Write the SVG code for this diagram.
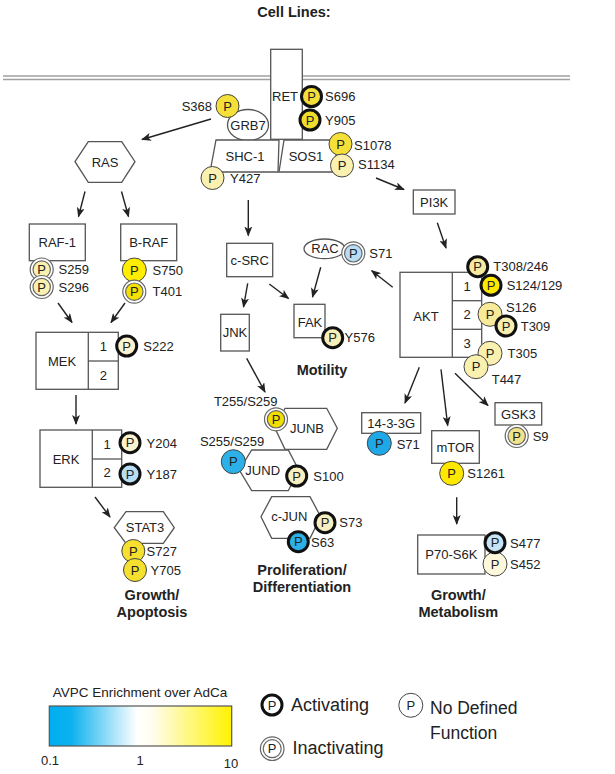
<svg xmlns="http://www.w3.org/2000/svg" width="615" height="774" viewBox="0 0 615 774">
<style>
text{font-family:"Liberation Sans",Arial,sans-serif;fill:#222}
.l{font-size:13px}
.c{text-anchor:middle}
.e{text-anchor:end}
.b{font-size:14.5px;font-weight:bold;text-anchor:middle}
.p{font-size:13px;text-anchor:middle}
.box{fill:#fff;stroke:#555;stroke-width:1.3}
.act{stroke:#111;stroke-width:3}
.nd{stroke:#444;stroke-width:1}
.ro{fill:#fff;stroke:#666;stroke-width:1.2}
.ri{stroke:#666;stroke-width:1.2}
.cn line{stroke:#222;stroke-width:1.4;marker-end:url(#ah)}
.big{font-size:17.5px}
</style>
<defs>
<marker id="ah" viewBox="0 0 10 8" markerWidth="10" markerHeight="8" refX="9" refY="4" orient="auto" markerUnits="userSpaceOnUse">
<path d="M0,0 L10,4 L0,8 L2.5,4 z" fill="#222"/>
</marker>
<linearGradient id="grad" x1="0" y1="0" x2="1" y2="0">
<stop offset="0" stop-color="#00aeef"/>
<stop offset="0.12" stop-color="#0db1ef"/>
<stop offset="0.48" stop-color="#ffffff"/>
<stop offset="0.56" stop-color="#fffdf0"/>
<stop offset="1" stop-color="#fff200"/>
</linearGradient>
</defs>
<rect width="615" height="774" fill="#fff"/>

<text class="b" x="294" y="16.7" style="font-size:14.5px">Cell Lines:</text>
<g id="membrane">
<line x1="3" y1="76" x2="570" y2="76" stroke="#a0a0a0" stroke-width="1.3"/>
<line x1="3" y1="79.5" x2="570" y2="79.5" stroke="#a0a0a0" stroke-width="1.3"/>
</g>

<g class="cn" id="connectors">
<line x1="211" y1="119" x2="142" y2="139.5"/>
<line x1="376" y1="178" x2="404" y2="189.5"/>
<line x1="85" y1="191.5" x2="78.5" y2="216.5"/>
<line x1="121.5" y1="191.5" x2="128.5" y2="216.5"/>
<line x1="58" y1="303" x2="72" y2="322.5"/>
<line x1="125" y1="303" x2="111" y2="322.5"/>
<line x1="76" y1="395" x2="76" y2="424"/>
<line x1="95" y1="497" x2="110" y2="517"/>
<line x1="248.3" y1="200" x2="248.3" y2="235.5"/>
<line x1="247.7" y1="283.3" x2="243.5" y2="307"/>
<line x1="269.3" y1="284" x2="288.5" y2="298.5"/>
<line x1="320.7" y1="267.3" x2="312.5" y2="297"/>
<line x1="392.7" y1="287.3" x2="371.7" y2="270.7"/>
<line x1="246.7" y1="358.3" x2="265" y2="392"/>
<line x1="437.3" y1="222.7" x2="446" y2="248"/>
<line x1="419.3" y1="367.3" x2="405" y2="403"/>
<line x1="441" y1="369.3" x2="447.7" y2="425.5"/>
<line x1="455" y1="373.3" x2="488" y2="405.5"/>
<line x1="456.7" y1="497.3" x2="456.7" y2="524"/>
</g>

<g id="GRB7">
<ellipse cx="248" cy="125" rx="20.5" ry="15.5" class="box"/>
<text class="l c" x="248" y="130">GRB7</text>
<g transform="translate(227.5,106)"><circle r="11.5" class="nd" fill="#f5e03a"/><text class="p" y="4.6">P</text></g>
<text class="l e" x="212" y="111">S368</text>
</g>

<g id="SHC1">
<polygon points="216,140 279,140 278,172 210,172" class="box"/>
<text class="l c" x="245" y="161">SHC-1</text>
<g transform="translate(212.5,178)"><circle r="11.5" class="nd" fill="#faf0b0"/><text class="p" y="4.6">P</text></g>
<text class="l" x="230" y="183">Y427</text>
</g>

<g id="SOS1">
<polygon points="284,140 336,140 336,172 279,172" class="box"/>
<text class="l c" x="306" y="161">SOS1</text>
<g transform="translate(340.5,144)"><circle r="11.5" class="nd" fill="#f5e03a"/><text class="p" y="4.6">P</text></g>
<text class="l" x="354" y="149.5">S1078</text>
<g transform="translate(342,165.5)"><circle r="11.5" class="nd" fill="#faf0b0"/><text class="p" y="4.6">P</text></g>
<text class="l" x="358" y="169">S1134</text>
</g>

<g id="RET">
<rect x="270.7" y="49.3" width="31.6" height="90" class="box"/>
<text class="l c" x="285" y="101">RET</text>
<g transform="translate(311.5,96.5)"><circle r="10" class="act" fill="#f2df3a"/><text class="p" y="4.6">P</text></g>
<text class="l" x="325" y="101">S696</text>
<g transform="translate(310,120)"><circle r="10" class="act" fill="#f0dc2c"/><text class="p" y="4.6">P</text></g>
<text class="l" x="325" y="125">Y905</text>
</g>

<g id="RAS">
<polygon points="75,161.7 88.3,141.7 121.7,141.7 135,161.7 121.7,182.3 88.3,182.3" class="box"/>
<text class="l c" x="105" y="166.5">RAS</text>
</g>

<g id="RAF1">
<rect x="29.3" y="224" width="56" height="36.7" class="box"/>
<text class="l c" x="57.3" y="247">RAF-1</text>
<g transform="translate(41.7,269.5)"><circle r="11.5" class="ro"/><circle r="8.7" class="ri" fill="#faf0b0"/><text class="p" y="4.6">P</text></g>
<text class="l" x="58.5" y="274">S259</text>
<g transform="translate(41.7,287)"><circle r="11.5" class="ro"/><circle r="8.7" class="ri" fill="#faf0b0"/><text class="p" y="4.6">P</text></g>
<text class="l" x="58.5" y="291.5">S296</text>
</g>

<g id="BRAF">
<rect x="120.7" y="224" width="56" height="36.7" class="box"/>
<text class="l c" x="148.7" y="247">B-RAF</text>
<g transform="translate(134.3,270)"><circle r="12" class="nd" fill="#ffee00"/><text class="p" y="4.6">P</text></g>
<text class="l" x="152.5" y="275">S750</text>
<g transform="translate(134.3,291.7)"><circle r="11.5" class="ro"/><circle r="8.7" class="ri" fill="#f5e000"/><text class="p" y="4.6">P</text></g>
<text class="l" x="152.5" y="296">T401</text>
</g>

<g id="MEK">
<rect x="36" y="332.3" width="82.3" height="57" class="box"/>
<line x1="88.3" y1="332.3" x2="88.3" y2="389.3" stroke="#555" stroke-width="1.3"/>
<line x1="88.3" y1="361" x2="118.3" y2="361" stroke="#555" stroke-width="1.3"/>
<text class="l c" x="62" y="365.5">MEK</text>
<text class="l c" x="103.3" y="351">1</text>
<text class="l c" x="103.3" y="380">2</text>
<g transform="translate(126.7,346)"><circle r="10" class="act" fill="#fbf3cf"/><text class="p" y="4.6">P</text></g>
<text class="l" x="143.3" y="351">S222</text>
</g>

<g id="ERK">
<rect x="40" y="430" width="81.7" height="57.3" class="box"/>
<line x1="92.3" y1="430" x2="92.3" y2="487.3" stroke="#555" stroke-width="1.3"/>
<line x1="92.3" y1="459" x2="121.7" y2="459" stroke="#555" stroke-width="1.3"/>
<text class="l c" x="66" y="463.5">ERK</text>
<text class="l c" x="107" y="448.5">1</text>
<text class="l c" x="107" y="477">2</text>
<g transform="translate(130,442.7)"><circle r="10" class="act" fill="#fbf3cf"/><text class="p" y="4.6">P</text></g>
<text class="l" x="146.5" y="447.5">Y204</text>
<g transform="translate(130,474)"><circle r="10" class="act" fill="#b8def5"/><text class="p" y="4.6">P</text></g>
<text class="l" x="146.5" y="478.5">Y187</text>
</g>

<g id="STAT3">
<polygon points="114.3,527.7 126,511.7 163.3,511.7 174.3,527.7 163.3,543.3 126,543.3" class="box"/>
<text class="l c" x="145" y="532">STAT3</text>
<g transform="translate(133.3,551)"><circle r="11.5" class="nd" fill="#f5e030"/><text class="p" y="4.6">P</text></g>
<text class="l" x="146.5" y="555.5">S727</text>
<g transform="translate(135,570)"><circle r="11.5" class="nd" fill="#f5e030"/><text class="p" y="4.6">P</text></g>
<text class="l" x="150.5" y="574.5">Y705</text>
</g>
<text class="b" x="152" y="600">Growth/</text>
<text class="b" x="152" y="616.5">Apoptosis</text>

<g id="cSRC">
<rect x="226.7" y="243.3" width="46" height="33.4" class="box"/>
<text class="l c" x="249.7" y="264.5">c-SRC</text>
</g>
<g id="JNK">
<rect x="220.7" y="314.3" width="28.6" height="36.7" class="box"/>
<text class="l c" x="235" y="337">JNK</text>
</g>
<g id="FAK">
<rect x="294" y="304.3" width="31" height="33.4" class="box"/>
<text class="l c" x="310" y="326.5">FAK</text>
<g transform="translate(332.7,337.7)"><circle r="10" class="act" fill="#f8efb8"/><text class="p" y="4.6">P</text></g>
<text class="l" x="344.5" y="342">Y576</text>
</g>
<g id="RAC">
<ellipse cx="324.5" cy="248.8" rx="20.5" ry="9.8" class="box"/>
<text class="l c" x="325" y="253.3">RAC</text>
<g transform="translate(353.3,253.3)"><circle r="11.5" class="ro"/><circle r="8.7" class="ri" fill="#b8def5"/><text class="p" y="4.6">P</text></g>
<text class="l" x="369.3" y="258">S71</text>
</g>
<text class="b" x="322" y="374.5">Motility</text>

<g id="JUNB">
<polygon points="275,428.3 285,408.3 326.7,408.3 337.3,428.3 326.7,449.3 285,449.3" class="box"/>
<text class="l c" x="307" y="433">JUNB</text>
<g transform="translate(276,419.3)"><circle r="11.5" class="ro"/><circle r="8.7" class="ri" fill="#f2df00"/><text class="p" y="4.6">P</text></g>
<text class="l c" x="245.7" y="405.5">T255/S259</text>
</g>
<g id="JUND">
<polygon points="239.3,470 251.7,450 288.3,450 298.7,470 288.3,490.7 251.7,490.7" class="box"/>
<text class="l c" x="262.7" y="475">JUND</text>
<g transform="translate(233.3,461.7)"><circle r="12" class="nd" fill="#2cb0e8"/><text class="p" y="4.6">P</text></g>
<text class="l e" x="264.3" y="446">S255/S259</text>
<g transform="translate(296.7,476)"><circle r="10" class="act" fill="#f8efc0"/><text class="p" y="4.6">P</text></g>
<text class="l" x="313.3" y="481">S100</text>
</g>
<g id="cJUN">
<polygon points="261,516.7 271.7,496.7 310,496.7 320.7,516.7 310,538.3 271.7,538.3" class="box"/>
<text class="l c" x="289.3" y="521">c-JUN</text>
<g transform="translate(325,522.7)"><circle r="10" class="act" fill="#f8efc0"/><text class="p" y="4.6">P</text></g>
<text class="l" x="339.3" y="527">S73</text>
<g transform="translate(298.3,541.7)"><circle r="10" class="act" fill="#2cb0e8"/><text class="p" y="4.6">P</text></g>
<text class="l" x="311" y="547">S63</text>
</g>
<text class="b" x="302" y="575">Proliferation/</text>
<text class="b" x="302" y="591.5">Differentiation</text>

<g id="PI3K">
<rect x="413.3" y="190" width="41.7" height="24" class="box"/>
<text class="l c" x="434.2" y="206.5">PI3K</text>
</g>

<g id="AKT">
<rect x="400" y="272.3" width="81.7" height="85" class="box"/>
<line x1="452.3" y1="272.3" x2="452.3" y2="357.3" stroke="#555" stroke-width="1.3"/>
<line x1="452.3" y1="300.7" x2="481.7" y2="300.7" stroke="#555" stroke-width="1.3"/>
<line x1="452.3" y1="329.3" x2="481.7" y2="329.3" stroke="#555" stroke-width="1.3"/>
<text class="l c" x="426" y="321">AKT</text>
<text class="l c" x="467" y="290.5">1</text>
<text class="l c" x="467" y="319">2</text>
<text class="l c" x="467" y="347.5">3</text>
<g transform="translate(477.7,266.7)"><circle r="10" class="act" fill="#f5eaa0"/><text class="p" y="4.6">P</text></g>
<text class="l" x="493.3" y="271">T308/246</text>
<g transform="translate(491,285.3)"><circle r="10" class="act" fill="#ffe800"/><text class="p" y="4.6">P</text></g>
<text class="l" x="506.7" y="290">S124/129</text>
<g transform="translate(490,314.3)"><circle r="12" class="nd" fill="#f7ea98"/><text class="p" y="4.6">P</text></g>
<text class="l" x="506" y="312">S126</text>
<g transform="translate(506,326)"><circle r="10" class="act" fill="#f8eeb0"/><text class="p" y="4.6">P</text></g>
<text class="l" x="520.7" y="330.5">T309</text>
<g transform="translate(490,353.3)"><circle r="12" class="nd" fill="#faf0b0"/><text class="p" y="4.6">P</text></g>
<text class="l" x="507.5" y="358">T305</text>
<g transform="translate(476,366.7)"><circle r="12" class="nd" fill="#faf0b0"/><text class="p" y="4.6">P</text></g>
<text class="l" x="491.7" y="383.5">T447</text>
</g>

<g id="G1433">
<rect x="361.7" y="412.7" width="59" height="20.6" class="box"/>
<text class="l c" x="391.2" y="428">14-3-3G</text>
<g transform="translate(379.3,443.3)"><circle r="12" class="nd" fill="#1ea8e6"/><text class="p" y="4.6">P</text></g>
<text class="l" x="396.7" y="448.5">S71</text>
</g>
<g id="mTOR">
<rect x="431.7" y="430.7" width="47.6" height="32.6" class="box"/>
<text class="l c" x="455.5" y="451.5">mTOR</text>
<g transform="translate(451.7,473.3)"><circle r="12" class="nd" fill="#ffe800"/><text class="p" y="4.6">P</text></g>
<text class="l" x="467.3" y="478">S1261</text>
</g>
<g id="GSK3">
<rect x="495" y="402.7" width="46.7" height="22.3" class="box"/>
<text class="l c" x="518.3" y="419">GSK3</text>
<g transform="translate(516.7,436)"><circle r="11.5" class="ro"/><circle r="8.7" class="ri" fill="#f2e38a"/><text class="p" y="4.6">P</text></g>
<text class="l" x="532.7" y="440.5">S9</text>
</g>
<g id="P70S6K">
<rect x="417.7" y="535" width="67.3" height="39" class="box"/>
<text class="l c" x="451.3" y="559">P70-S6K</text>
<g transform="translate(495,564)"><circle r="12" class="nd" fill="#fdf7dc"/><text class="p" y="4.6">P</text></g>
<text class="l" x="510" y="568.5">S452</text>
<g transform="translate(495,542.7)"><circle r="10" class="act" fill="#c5e4f5"/><text class="p" y="4.6">P</text></g>
<text class="l" x="510" y="547.5">S477</text>
</g>
<text class="b" x="458.3" y="600">Growth/</text>
<text class="b" x="458.3" y="617">Metabolism</text>

<g id="legend">
<text class="c" x="140" y="697" style="font-size:13.5px">AVPC Enrichment over AdCa</text>
<rect x="49.3" y="706" width="182.4" height="40" fill="url(#grad)" stroke="#555" stroke-width="1.2"/>
<text class="l c" x="50" y="765">0.1</text>
<text class="l c" x="140" y="765">1</text>
<text class="l c" x="231" y="768">10</text>
<g transform="translate(272,705)"><circle r="10" class="act" fill="#fff"/><text class="p" y="4.6">P</text></g>
<text class="big" x="291" y="710.5" style="font-size:18px">Activating</text>
<g transform="translate(272.2,748.7)"><circle r="11.8" class="ro"/><circle r="9" class="ri" fill="#fff"/><text class="p" y="4.6">P</text></g>
<text class="big" x="292.5" y="753.5" style="font-size:18px">Inactivating</text>
<g transform="translate(410.8,705.3)"><circle r="12" class="nd" fill="#fff"/><text class="p" y="4.6">P</text></g>
<text class="big" x="430" y="714">No Defined</text>
<text class="big" x="430" y="739">Function</text>
</g>
</svg>
